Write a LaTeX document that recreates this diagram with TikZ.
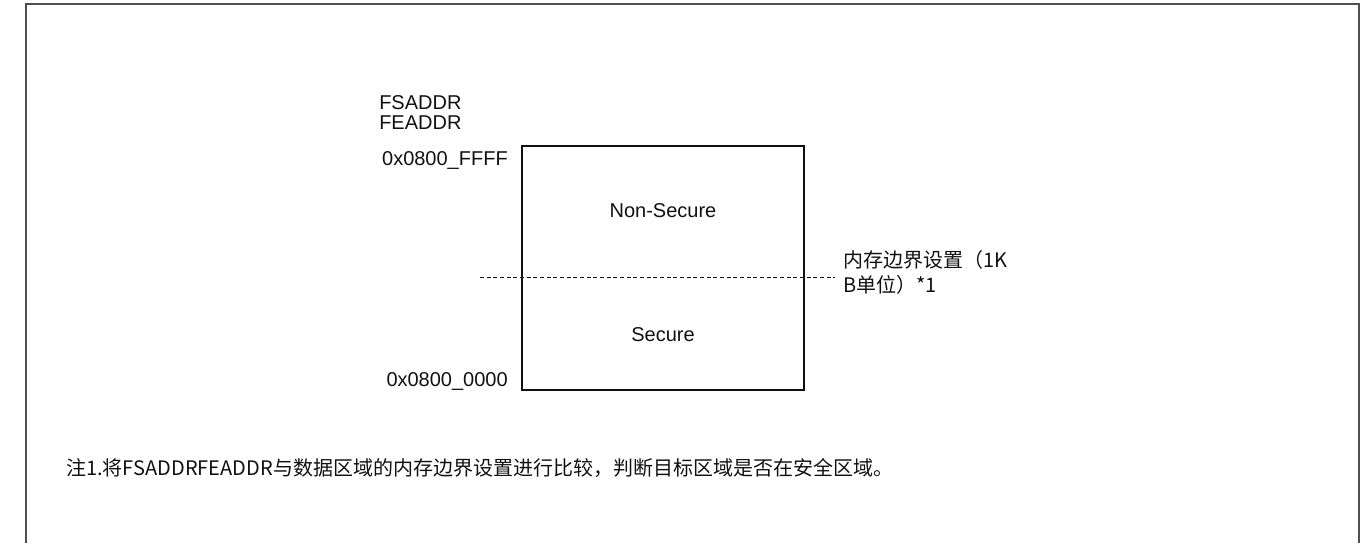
\documentclass[tikz,border=0pt]{standalone}
\usepackage{fontspec}
\setmainfont{Liberation Sans}
\newfontfamily\cjk{Noto Sans CJK SC}
\usetikzlibrary{positioning}
\definecolor{ink}{HTML}{111111}
\definecolor{frame}{HTML}{505050}

\begin{document}
\begin{tikzpicture}[x=0.75pt, y=-0.75pt, text=ink, font=\fontsize{15}{18}\selectfont, inner sep=0pt,
  region/.style={draw=ink, line width=1.1pt, minimum width=211.5pt, minimum height=183pt},
  addr/.style={anchor=base east},
  cjktext/.style={font=\cjk\fontsize{15}{18.75}\selectfont, align=left}]
  \useasboundingbox (0,0) rectangle (1370,543);
  \draw[frame, line width=1.5pt] (26,543) -- (26,4) -- (1359,4) -- (1359,543);

  \node[region] (mem) at (663,268) {};
  \node[anchor=base] (ns) at (663,217) {Non-Secure};
  \node[anchor=base] (sec) at (663,341) {Secure};

  \node[anchor=base west] (fs) at (379,109) {FSADDR};
  \node[anchor=base west] (fe) at (379,129) {FEADDR};
  \node[addr] (top) at (508,165) {0x0800\_FFFF};
  \node[addr] (bot) at (508,386) {0x0800\_0000};

  \coordinate (cutL) at (480,277);
  \coordinate (cutR) at (835,277);
  \draw[ink, line width=0.6pt, dash pattern=on 3pt off 2pt] (cutL) -- (cutR);
  \node[cjktext, anchor=base west] (bnd) at (843,292) {内存边界设置（1K\\B单位）*1};

  \node[cjktext, anchor=base west] (note) at (66,475) {注1.将FSADDRFEADDR与数据区域的内存边界设置进行比较，判断目标区域是否在安全区域。};
\end{tikzpicture}
\end{document}
